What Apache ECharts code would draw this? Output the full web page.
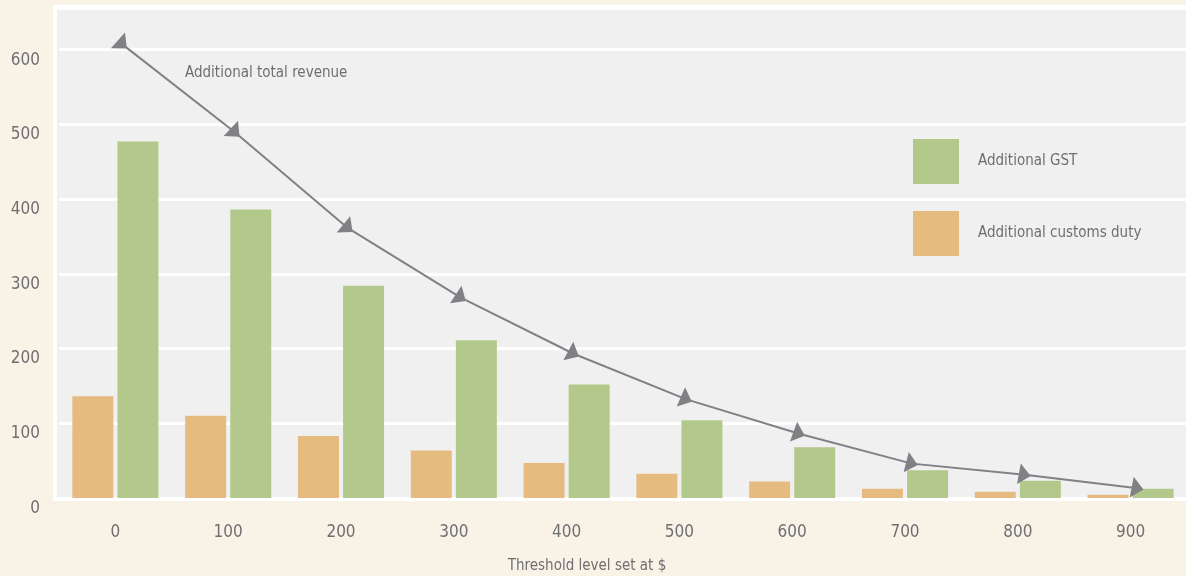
<!DOCTYPE html>
<html>
<head>
<meta charset="utf-8">
<title>Threshold level revenue</title>
<script src="https://cdn.jsdelivr.net/npm/echarts@6/dist/echarts.min.js"></script>
<style>
  html, body { margin: 0; padding: 0; background: #f9f2e6; }
  #chart { width: 1186px; height: 576px; }
</style>
</head>
<body>
<div id="chart"></div>
<script>
// Threshold levels (in $) along the x axis
const categories = ['0', '100', '200', '300', '400', '500', '600', '700', '800', '900'];
// Additional revenue by threshold level
const customsDuty = [136, 110, 83, 63.5, 47, 32.5, 22, 12.5, 8.5, 4.5];
const gst = [477, 386, 284, 211, 152, 104, 68, 37, 23, 12.5];
const totalRevenue = [607, 489, 361, 268, 193, 132, 86, 46, 31, 13];
// Value axis ticks
const yTicks = [0, 100, 200, 300, 400, 500, 600];

const FONT = "'DejaVu Sans Condensed', 'DejaVu Sans', sans-serif";
const TEXT = '#6f6f72';
const GREEN = '#b3c98b';
const ORANGE = '#e5bb80';
const ARROW = '#808185';

const yInterval = yTicks[1] - yTicks[0];
const plotTop = 10, plotHeight = 488;
// top of the panel sits a little above the last tick
const yMax = 653;

const chart = echarts.init(document.getElementById('chart'), null, { renderer: 'canvas' });

const option = {
  backgroundColor: '#f9f2e6',
  animation: false,
  textStyle: { fontFamily: FONT },
  graphic: [
    {
      // white frame around the panel
      type: 'rect', z: -10, silent: true,
      shape: { x: 53, y: 5, width: 1150, height: 496 },
      style: { fill: '#ffffff' }
    },
    {
      // grey panel
      type: 'rect', z: -9, silent: true,
      shape: { x: 57, y: plotTop, width: 1140, height: plotHeight },
      style: { fill: '#f0f0f0' }
    },
    {
      type: 'text', left: 185, top: 66, z: 10,
      style: { text: 'Additional total revenue', fontSize: 15, fontFamily: FONT, fill: TEXT }
    }
  ],
  legend: {
    data: ['Additional GST', 'Additional customs duty'],
    orient: 'vertical',
    left: 913, top: 139, padding: 0,
    icon: 'rect',
    itemWidth: 46, itemHeight: 45, itemGap: 27,
    textStyle: { color: TEXT, fontSize: 15, fontFamily: FONT, padding: [0, 0, 0, 14] },
    selectedMode: false
  },
  grid: [
    { left: 59, right: -1, top: plotTop, height: plotHeight, outerBoundsMode: 'none' },
    { left: 66, right: -8, top: plotTop, height: plotHeight, outerBoundsMode: 'none' }
  ],
  xAxis: [
    {
      type: 'category', gridIndex: 0, data: categories,
      axisLine: { lineStyle: { color: '#ffffff', width: 3 } },
      axisTick: { inside: true, length: 11, lineStyle: { color: '#ffffff', width: 2 } },
      axisLabel: { color: TEXT, fontSize: 17, fontFamily: FONT, margin: 26 },
      name: 'Threshold level set at $',
      nameLocation: 'middle', nameGap: 61,
      nameTextStyle: { color: TEXT, fontSize: 15, fontFamily: FONT, padding: [0, 72, 0, 0] }
    },
    { type: 'category', gridIndex: 1, data: categories, show: false }
  ],
  yAxis: [
    {
      type: 'value', gridIndex: 0, min: yTicks[0], max: yMax, interval: yInterval,
      axisLine: { show: false }, axisTick: { show: false },
      axisLabel: {
        color: TEXT, fontSize: 17, fontFamily: FONT, margin: 19,
        verticalAlign: 'top', lineHeight: 17, padding: [2, 0, 0, 0], showMaxLabel: false
      },
      splitLine: { show: true, showMaxLine: false, lineStyle: { color: '#ffffff', width: 3 } }
    },
    { type: 'value', gridIndex: 1, min: yTicks[0], max: yMax, interval: yInterval, show: false }
  ],
  series: [
    {
      name: 'Additional customs duty', type: 'bar', xAxisIndex: 0, yAxisIndex: 0,
      data: customsDuty, barWidth: 41, barGap: '10%',
      itemStyle: { color: ORANGE }
    },
    {
      name: 'Additional GST', type: 'bar', xAxisIndex: 0, yAxisIndex: 0,
      data: gst, barWidth: 41, barGap: '10%',
      itemStyle: { color: GREEN }
    },
    {
      name: 'Additional total revenue', type: 'line', xAxisIndex: 1, yAxisIndex: 1,
      data: totalRevenue, z: 5,
      symbol: 'triangle', symbolSize: [21, 12], showAllSymbol: true,
      lineStyle: { color: ARROW, width: 2 },
      itemStyle: { color: ARROW }
    }
  ]
};

chart.setOption(option);

// Point each arrowhead along the direction of the line at that point
const pts = totalRevenue.map((v, i) => chart.convertToPixel({ seriesIndex: 2 }, [i, v]));
const segAngle = (a, b) => Math.atan2(b[1] - a[1], b[0] - a[0]) * 180 / Math.PI;
const rotations = pts.map((p, i) => {
  const angs = [];
  if (i > 0) angs.push(segAngle(pts[i - 1], p));
  if (i < pts.length - 1) angs.push(segAngle(p, pts[i + 1]));
  const a = angs.reduce((s, x) => s + x, 0) / angs.length + 4;
  return -90 - a;
});
chart.setOption({
  series: [{}, {}, { data: totalRevenue.map((v, i) => ({ value: v, symbolRotate: rotations[i] })) }]
});
</script>
</body>
</html>
